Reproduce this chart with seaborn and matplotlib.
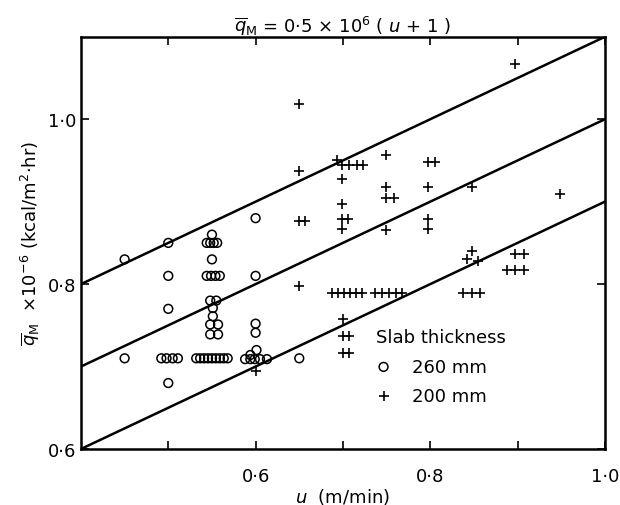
import numpy as np
import pandas as pd
import matplotlib
matplotlib.use('Agg')
import matplotlib.pyplot as plt
import seaborn as sns

# slab 260 mm (open circles)
c260_u = [0.45, 0.45,
          0.50, 0.50, 0.50, 0.50,
          0.492, 0.498, 0.505, 0.511,
          0.55, 0.544, 0.548, 0.552, 0.556, 0.55,
          0.544, 0.549, 0.554, 0.559,
          0.548, 0.555, 0.551, 0.551, 0.548, 0.557, 0.548, 0.557,
          0.532, 0.5365, 0.541, 0.5455, 0.55, 0.5545, 0.559, 0.5635, 0.568,
          0.60, 0.60, 0.60, 0.60, 0.601, 0.594,
          0.588, 0.594, 0.599, 0.605, 0.613,
          0.65]
c260_q = [0.83, 0.71,
          0.85, 0.81, 0.77, 0.68,
          0.71, 0.71, 0.71, 0.71,
          0.86, 0.85, 0.85, 0.85, 0.85, 0.83,
          0.81, 0.81, 0.81, 0.81,
          0.78, 0.78, 0.771, 0.761, 0.751, 0.751, 0.739, 0.739,
          0.71, 0.71, 0.71, 0.71, 0.71, 0.71, 0.71, 0.71, 0.71,
          0.88, 0.81, 0.752, 0.741, 0.72, 0.714,
          0.709, 0.709, 0.709, 0.709, 0.709,
          0.71]

# slab 200 mm (plus signs)
c200_u = [0.60,
          0.65, 0.65, 0.65, 0.657, 0.65,
          0.693, 0.699, 0.707, 0.716, 0.723,
          0.699, 0.699, 0.699, 0.706, 0.699,
          0.687, 0.694, 0.701, 0.708, 0.715, 0.722,
          0.70, 0.70, 0.707, 0.70, 0.707,
          0.749, 0.749, 0.749, 0.758, 0.749,
          0.737, 0.745, 0.753, 0.761, 0.768,
          0.798, 0.806, 0.798, 0.798, 0.798,
          0.848, 0.848, 0.842, 0.855, 0.838, 0.848, 0.857,
          0.897, 0.897, 0.907, 0.888, 0.897, 0.907,
          0.949]
c200_q = [0.695,
          1.018, 0.937, 0.877, 0.877, 0.798,
          0.95, 0.945, 0.945, 0.945, 0.945,
          0.927, 0.897, 0.879, 0.879, 0.867,
          0.789, 0.789, 0.789, 0.789, 0.789, 0.789,
          0.758, 0.737, 0.737, 0.716, 0.716,
          0.957, 0.918, 0.905, 0.905, 0.866,
          0.789, 0.789, 0.789, 0.789, 0.789,
          0.948, 0.948, 0.918, 0.879, 0.867,
          0.918, 0.84, 0.83, 0.828, 0.789, 0.789, 0.789,
          1.067, 0.837, 0.837, 0.817, 0.817, 0.817,
          0.909]

# q = 0.5e6 (u + 1) and the two bands either side
line_offsets = [-0.1, 0.0, 0.1]

sns.set_theme(style='ticks')
plt.rcParams['font.family'] = ['DejaVu Sans']
plt.rcParams['mathtext.fontset'] = 'dejavusans'
plt.rcParams['text.color'] = 'black'
plt.rcParams['axes.labelcolor'] = 'black'

fig = plt.figure(figsize=(6.2, 5.06), dpi=100)
ax = fig.add_axes([0.1306, 0.1107, 0.845, 0.8146])

u_line = np.array([0.4, 1.0])
for off in line_offsets:
    ax.plot(u_line, 0.5 * (u_line + 1) + off, color='black', lw=1.8, zorder=2)

df260 = pd.DataFrame({'u': c260_u, 'q': c260_q})
df200 = pd.DataFrame({'u': c200_u, 'q': c200_q})
sns.scatterplot(data=df260, x='u', y='q', ax=ax, marker='o', s=40,
                facecolor='none', edgecolor='black', linewidth=1.1,
                label='260 mm', zorder=3)
sns.scatterplot(data=df200, x='u', y='q', ax=ax, marker='+', s=60,
                color='black', linewidth=1.2, label='200 mm', zorder=3)

ax.set_xlim(0.4, 1.0)
ax.set_ylim(0.6, 1.1)
ax.set_xticks([0.6, 0.8, 1.0])
ax.set_xticklabels(['0·6', '0·8', '1·0'])
ax.set_xticks([0.5, 0.7, 0.9], minor=True)
ax.set_yticks([0.6, 0.8, 1.0])
ax.set_yticklabels(['0·6', '0·8', '1·0'])
ax.tick_params(which='both', direction='in', top=True, right=True,
               length=6, width=1.2, colors='black', labelsize=13)
ax.tick_params(axis='x', pad=13)
for sp in ax.spines.values():
    sp.set_visible(True)
    sp.set_linewidth(1.8)
    sp.set_color('black')

ax.set_xlabel(r'$u$  (m/min)', fontsize=13, labelpad=1)
ax.set_ylabel(r'$\overline{q}_{\rm M}$  ×10$^{-6}$ (kcal/m$^2$·hr)', fontsize=13, labelpad=4)
ax.set_title(r'$\overline{q}_{\rm M}$ = 0·5 × 10$^6$ ( $u$ + 1 )', fontsize=13, pad=4)

leg = ax.legend(title='Slab thickness', frameon=False, loc='upper left',
                bbox_to_anchor=(0.55, 0.31), alignment='left', fontsize=13,
                title_fontsize=13, handlelength=0.8, handletextpad=1.2,
                labelspacing=0.62, borderaxespad=0, labelcolor='black')

fig.savefig('out.png', dpi=100)
